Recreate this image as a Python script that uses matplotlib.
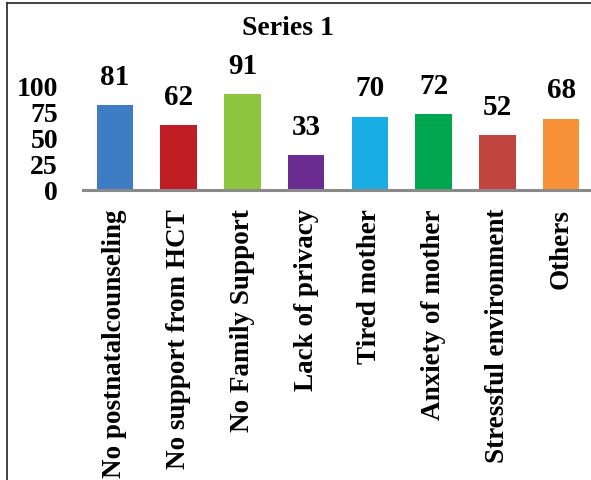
import matplotlib.pyplot as plt
from matplotlib.lines import Line2D

categories = [
    "No postnatalcounseling",
    "No support from HCT",
    "No Family Support",
    "Lack of privacy",
    "Tired mother",
    "Anxiety of mother",
    "Stressful environment",
    "Others",
]
values = [81, 62, 91, 33, 70, 72, 52, 68]
bar_colors = ["#3E7CC4", "#BF1E24", "#8CC641", "#6A2C91",
              "#1AADE4", "#00A650", "#C1443F", "#F79239"]
yticks = [0, 25, 50, 75, 100]

plt.rcParams["font.family"] = "Liberation Serif"
plt.rcParams["font.weight"] = "bold"

W, H = 591, 481
fig = plt.figure(figsize=(W / 100, H / 100), dpi=100)

# axes placed in pixel terms
left, right, base, top = 83, 593, 191, 86
ax = fig.add_axes([left / W, 1 - base / H, (right - left) / W, (base - top) / H])

x = range(len(categories))
bars = ax.bar(x, values, width=0.57, color=bar_colors)

for b, v in zip(bars, values):
    ax.annotate(str(v), (b.get_x() + b.get_width() / 2, v),
                xytext=(0, 11), textcoords="offset points",
                ha="center", va="bottom", fontsize=21, fontweight="bold",
                annotation_clip=False)

ax.set_xlim(-0.5, 7.5)
ax.set_ylim(0, 100)
ax.set_yticks(yticks)
ax.set_yticklabels([str(t) for t in yticks], fontsize=20, fontweight="bold")
ax.set_xticks(list(x))
ax.set_xticklabels(categories, rotation=90, fontsize=19.5, fontweight="bold")
ax.tick_params(axis="both", length=0)
ax.tick_params(axis="y", pad=18)
ax.tick_params(axis="x", pad=13)

for s in ["top", "right", "left"]:
    ax.spines[s].set_visible(False)
ax.spines["bottom"].set_color("#8a8a8a")
ax.spines["bottom"].set_linewidth(2.2)

fig.text(288 / W, 1 - 29 / H, "Series 1", ha="center", va="center",
         fontsize=20, fontweight="bold")

# outer frame lines (top and left)
fig.add_artist(Line2D([7 / W, 1], [1 - 3.5 / H, 1 - 3.5 / H],
                      transform=fig.transFigure, color="#333333", lw=1.3))
fig.add_artist(Line2D([7 / W, 7 / W], [0, 1 - 3.5 / H],
                      transform=fig.transFigure, color="#333333", lw=1.3))

fig.savefig("out.png", dpi=100)
